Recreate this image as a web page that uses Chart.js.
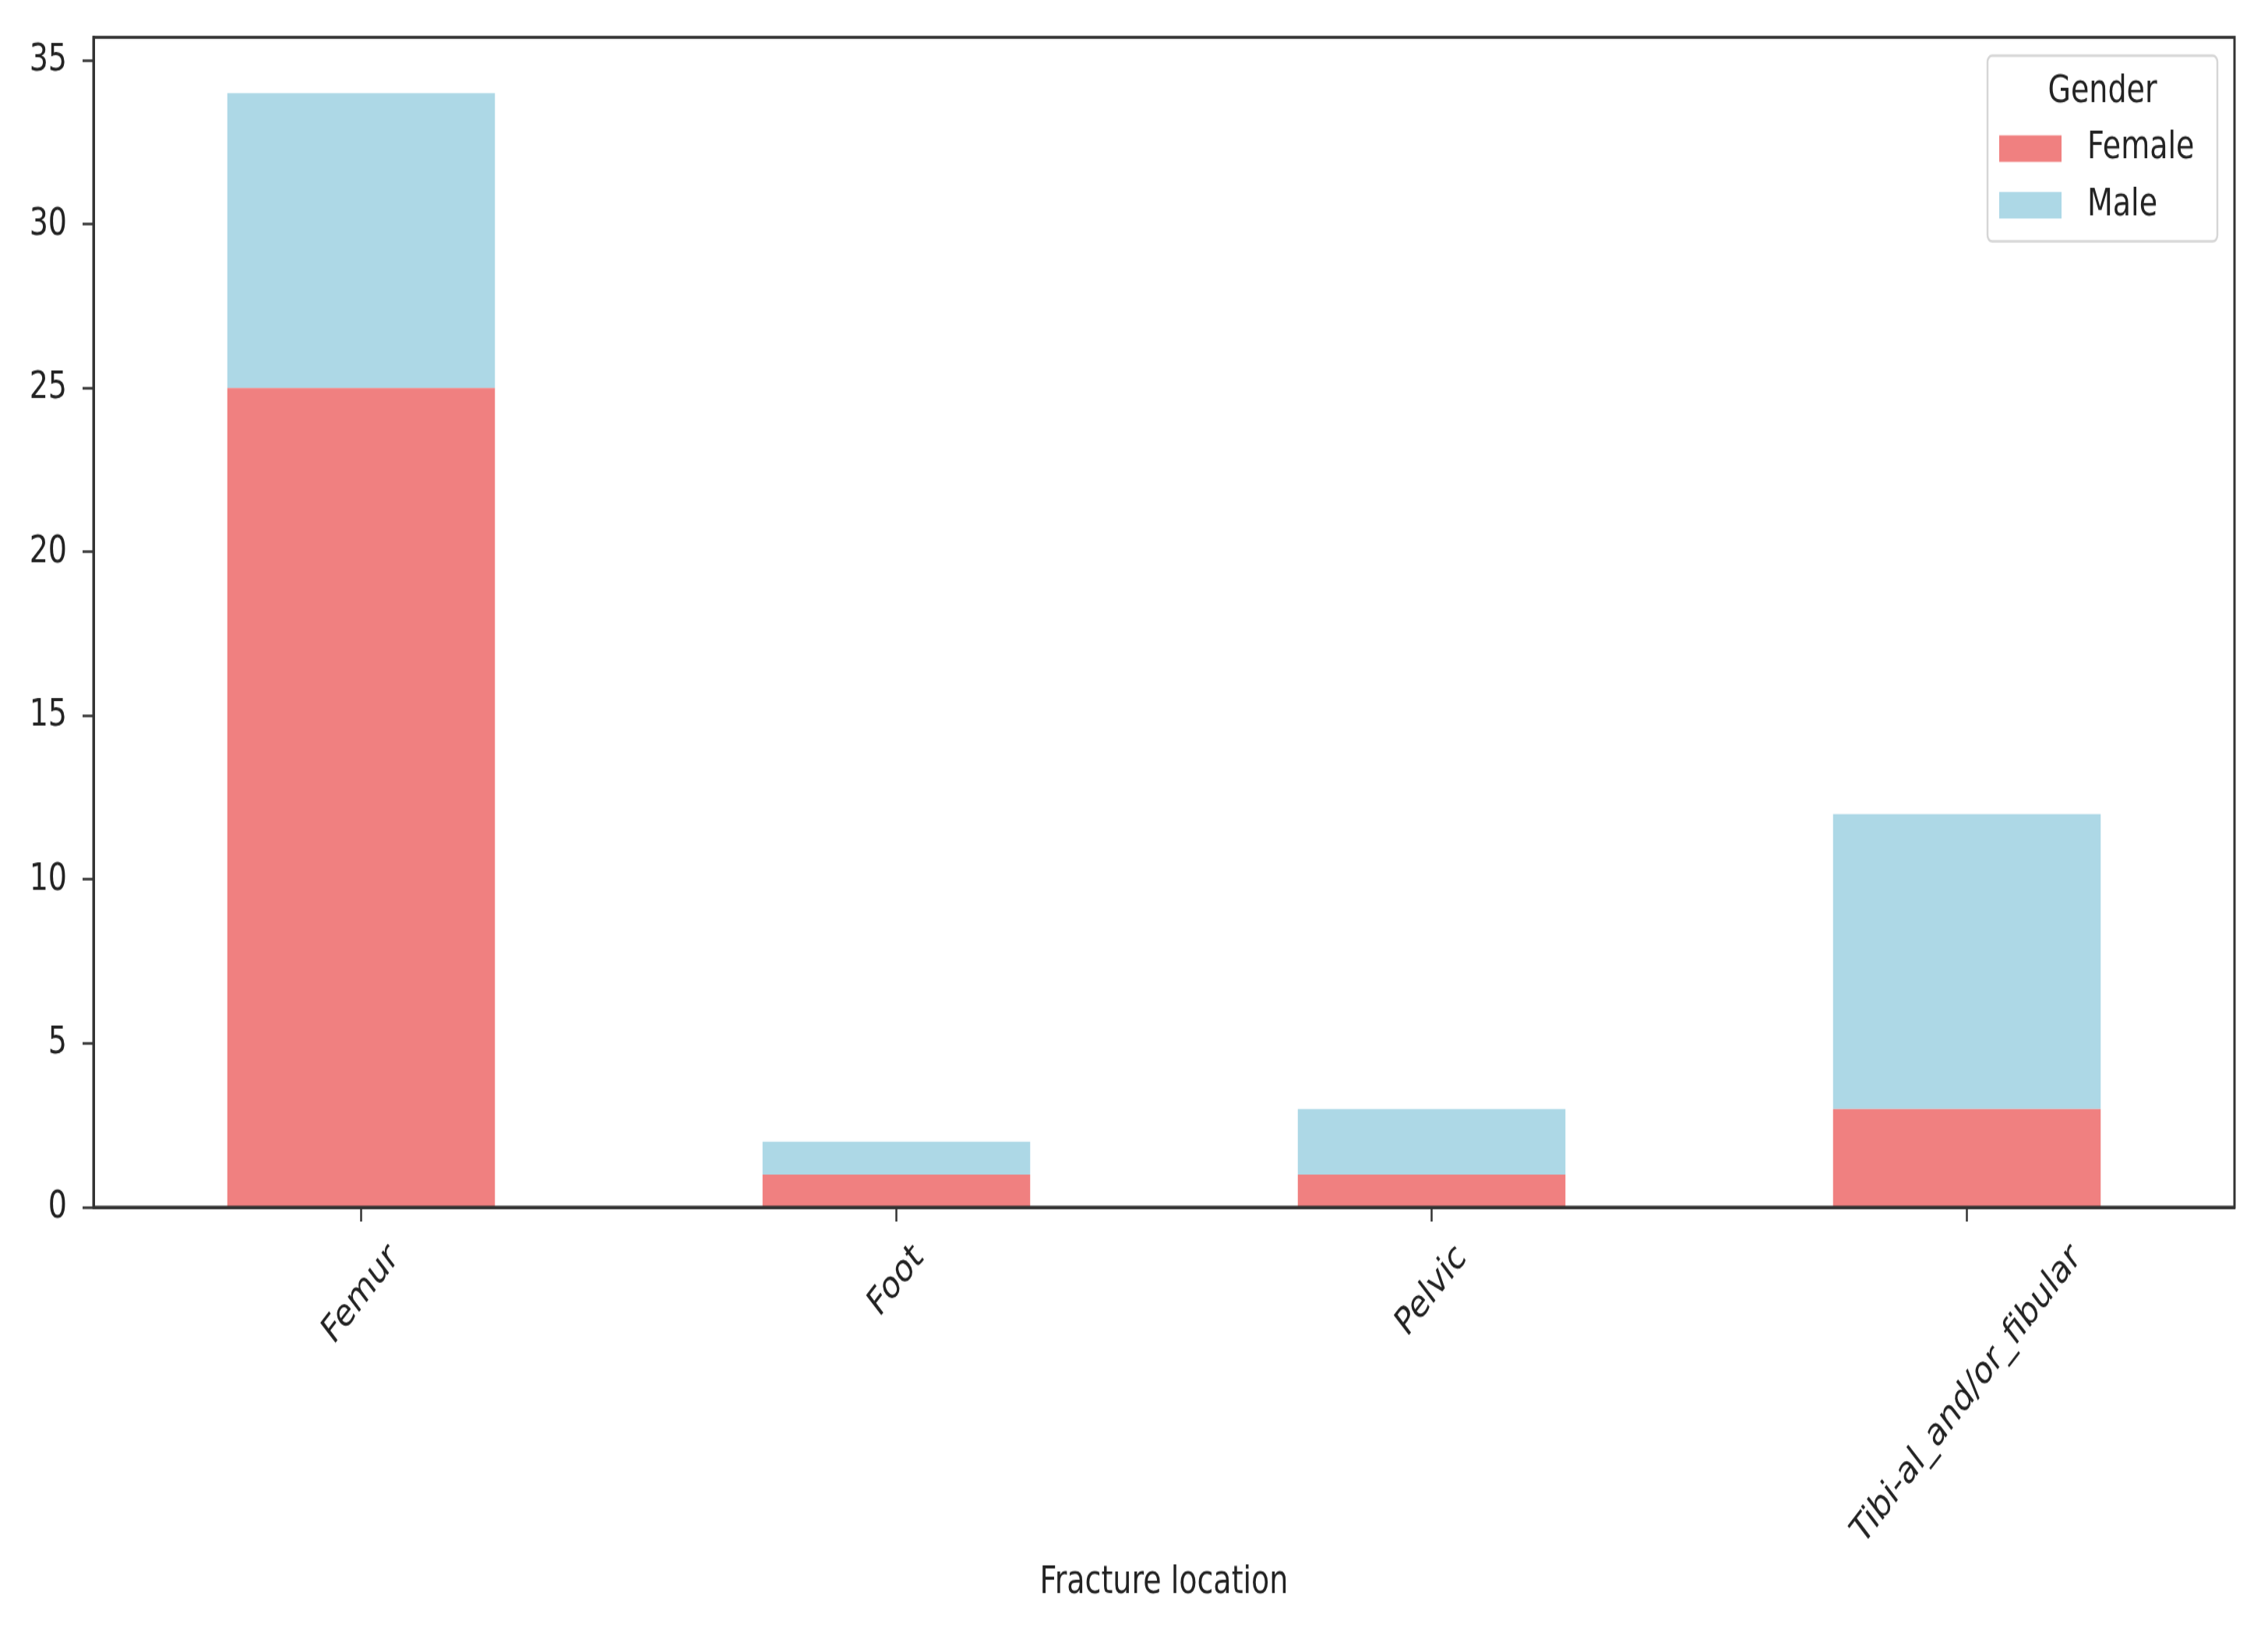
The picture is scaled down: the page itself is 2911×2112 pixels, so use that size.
<!DOCTYPE html>
<html>
<head>
<meta charset="utf-8">
<script src="https://cdn.jsdelivr.net/npm/chart.js@4.4.1/dist/chart.umd.min.js"></script>
<style>
  html { margin: 0; padding: 0; overflow: hidden; background: #fff; }
  body { margin: 0; padding: 0; width: 2911px; height: 2112px; background: #fff; }
  /* the reference picture is stretched vertically, so the chart is drawn at a lower height and scaled up */
  #wrap { width: 2911px; height: 1612px; transform: scaleY(1.31017); transform-origin: 0 0; }
</style>
</head>
<body>
<div id="wrap"><canvas id="chart" width="2911" height="1612"></canvas></div>
<script>
var locations = ["Femur", "Foot", "Pelvic", "Tibi-al_and/or_fibular"];
var female = [25, 1, 1, 3];
var male = [9, 1, 2, 9];
var yTicks = [0, 5, 10, 15, 20, 25, 30, 35];

var fontFamily = "'DejaVu Sans', 'Liberation Sans', sans-serif";
var fontSize = 38;
var textColor = "#222";
var axisColor = "#333";

// box round the plot (matplotlib spines on all four sides)
var frame = {
  id: "frame",
  afterDatasetsDraw: function (chart) {
    var a = chart.chartArea, ctx = chart.ctx;
    ctx.save();
    ctx.strokeStyle = axisColor;
    ctx.lineWidth = 3;
    ctx.strokeRect(a.left, a.top, a.right - a.left, a.bottom - a.top);
    ctx.restore();
  }
};

// x tick labels rotated 45 degrees and centred under the tick
var xLabels = {
  id: "xLabels",
  afterDraw: function (chart) {
    var sc = chart.scales.x, ctx = chart.ctx;
    var top = chart.chartArea.bottom + 14 + 14;
    ctx.save();
    ctx.font = fontSize + "px " + fontFamily;
    ctx.fillStyle = textColor;
    ctx.textAlign = "center";
    ctx.textBaseline = "middle";
    locations.forEach(function (lab, i) {
      var w = ctx.measureText(lab).width;
      var h = fontSize * 1.17;
      var half = (w + h) * Math.SQRT1_2 / 2;
      ctx.save();
      ctx.translate(sc.getPixelForTick(i), top + half);
      ctx.rotate(-Math.PI / 4);
      ctx.fillText(lab, 0, 0);
      ctx.restore();
    });
    ctx.restore();
  }
};

// legend box in the upper right corner of the plot
var legendBox = {
  id: "legendBox",
  afterDraw: function (chart) {
    var a = chart.chartArea, ctx = chart.ctx;
    var x0 = a.right - 22 - 295, y0 = a.top + 18, w = 295, h = 182;
    ctx.save();
    ctx.fillStyle = "rgba(255,255,255,0.8)";
    ctx.strokeStyle = "#d6d6d6";
    ctx.lineWidth = 2.5;
    ctx.beginPath();
    ctx.roundRect(x0, y0, w, h, 6);
    ctx.fill();
    ctx.stroke();
    ctx.font = fontSize + "px " + fontFamily;
    ctx.fillStyle = textColor;
    ctx.textBaseline = "middle";
    ctx.textAlign = "center";
    ctx.fillText("Gender", x0 + w / 2, y0 + 36);
    ctx.textAlign = "left";
    chart.data.datasets.forEach(function (ds, i) {
      var cy = y0 + 91 + i * 55.5;
      ctx.fillStyle = ds.backgroundColor;
      ctx.fillRect(x0 + 15, cy - 13, 80, 26);
      ctx.fillStyle = textColor;
      ctx.fillText(ds.label, x0 + 128, cy);
    });
    ctx.restore();
  }
};

new Chart(document.getElementById("chart"), {
  type: "bar",
  data: {
    labels: locations,
    datasets: [
      { label: "Female", data: female, backgroundColor: "#F08080", borderWidth: 0 },
      { label: "Male", data: male, backgroundColor: "#ADD8E6", borderWidth: 0 }
    ]
  },
  options: {
    responsive: false,
    maintainAspectRatio: false,
    animation: false,
    devicePixelRatio: 1,
    barPercentage: 0.5,
    categoryPercentage: 1.0,
    layout: { padding: { top: 36.6, right: 43, bottom: 18, left: 0 } },
    plugins: { legend: { display: false }, tooltip: { enabled: false } },
    scales: {
      x: {
        stacked: true,
        offset: true,
        grid: { display: true, offset: false, drawOnChartArea: false, drawTicks: true, tickLength: 14, tickWidth: 2.5, tickColor: axisColor },
        border: { display: true, color: axisColor, width: 3 },
        ticks: { display: false },
        title: {
          display: true,
          text: "Fracture location",
          color: textColor,
          font: { family: fontFamily, size: fontSize, lineHeight: 1.2 },
          padding: { top: 0, bottom: 20 }
        },
        afterFit: function (s) { s.height = 411; }
      },
      y: {
        stacked: true,
        min: 0,
        max: 35.7,
        grid: { display: true, drawOnChartArea: false, drawTicks: true, tickLength: 14, tickWidth: 2.5, tickColor: axisColor },
        border: { display: true, color: axisColor, width: 3 },
        afterBuildTicks: function (s) { s.ticks = yTicks.map(function (v) { return { value: v }; }); },
        ticks: {
          includeBounds: false,
          padding: 20,
          color: textColor,
          font: { family: fontFamily, size: fontSize }
        },
        afterFit: function (s) { s.width = 120; s.paddingTop = 0; s.paddingBottom = 0; }
      }
    }
  },
  plugins: [frame, xLabels, legendBox]
});
</script>
</body>
</html>
